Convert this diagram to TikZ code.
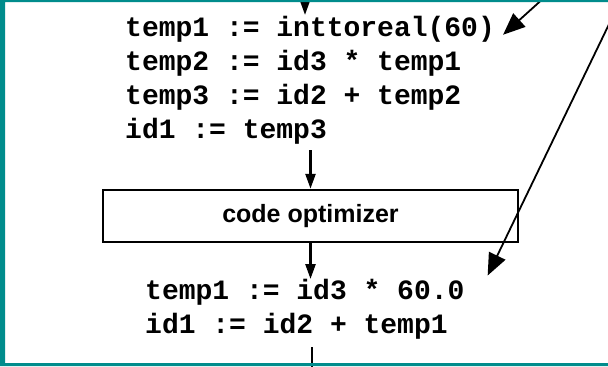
\documentclass[tikz,border=0pt]{standalone}
\usepackage{fontspec}
\usetikzlibrary{arrows.meta}
\newfontfamily\codefont{Liberation Mono}
\newfontfamily\labelfont{Liberation Sans}
\definecolor{frameteal}{RGB}{0,140,140}
\begin{document}
\begin{tikzpicture}[x=1bp,y=-1bp,
  codeline/.style={anchor=base west, inner sep=0pt,
    font=\codefont\bfseries\fontsize{28bp}{28bp}\selectfont},
  phasebox/.style={draw, line width=2.5bp, minimum width=415bp, minimum height=52bp,
    inner sep=0pt, font=\labelfont\bfseries\fontsize{25bp}{25bp}\selectfont},
  flow/.style={line width=2.5bp, -{Triangle[length=15bp,width=10bp]}},
  pointer/.style={line width=1.8bp, -{Triangle[length=22bp,width=18bp]}}]
  \useasboundingbox (0,0) rectangle (608,366);
  \fill[white] (0,0) rectangle (608,366);

  % three-address code
  \node[codeline] (l1) at (125,36) {temp1 := inttoreal(60)};
  \node[codeline] (l2) at (125,70) {temp2 := id3 * temp1};
  \node[codeline] (l3) at (125,104) {temp3 := id2 + temp2};
  \node[codeline] (l4) at (125,138) {id1 := temp3};

  % optimizer phase
  \node[phasebox] (opt) at (310.5,216) {code optimizer};

  % optimized code
  \node[codeline] (m1) at (145,299) {temp1 := id3 * 60.0};
  \node[codeline] (m2) at (145,333) {id1 := id2 + temp1};

  % vertical flow
  \coordinate (in0) at (305,-2);
  \coordinate (in1) at (305,15);
  \draw[flow] (in0) -- (in1);
  \draw[flow] (opt.north |- 0,150) -- (opt.north);
  \draw[flow] (opt.south) -- (opt.south |- 0,279);
  \coordinate (out0) at (312,347);
  \coordinate (out1) at (312,368);
  \draw[line width=2.5bp] (out0) -- (out1);

  % pointers from the margin
  \coordinate (pa) at (546,-4);
  \draw[pointer] (pa) -- ([xshift=8bp,yshift=-6bp]l1.east);
  \coordinate (pb) at (612,18);
  \draw[pointer] (pb) -- ([xshift=23bp,yshift=3bp]m1.north east);

  % frame
  \fill[frameteal, even odd rule] (0,0) rectangle (608,366) (5,2) rectangle (608,363);
\end{tikzpicture}
\end{document}
